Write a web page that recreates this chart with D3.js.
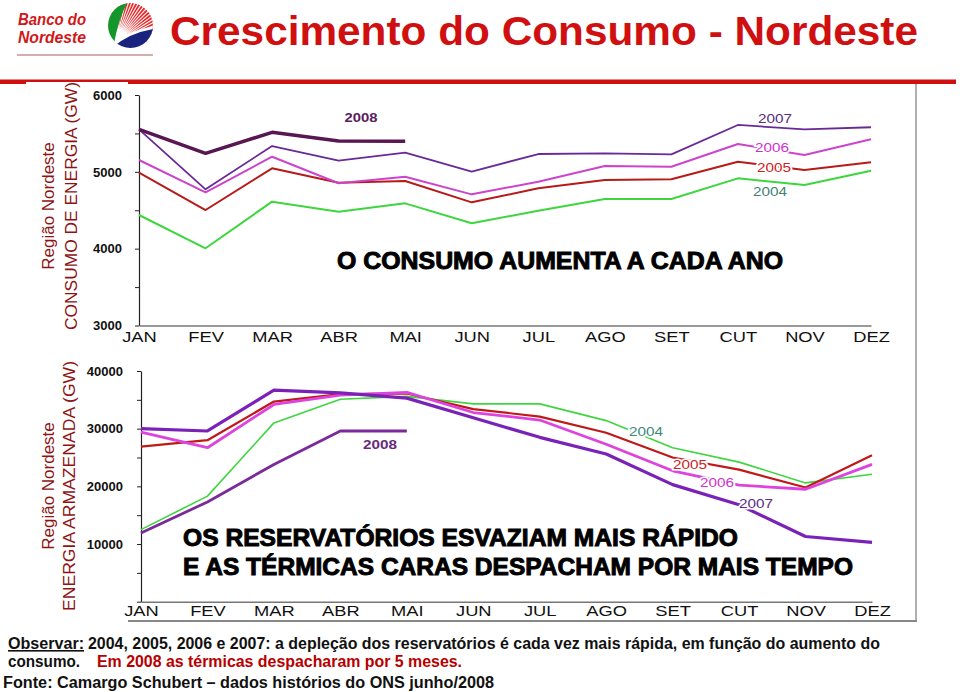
<!DOCTYPE html>
<html><head><meta charset="utf-8">
<script src="https://cdn.jsdelivr.net/npm/d3@7"></script>
<style>body{margin:0;background:#fff}svg{display:block;font-family:"Liberation Sans",Arial,sans-serif}</style>
</head><body>
<script>
// ---- data ----
const months = ["JAN","FEV","MAR","ABR","MAI","JUN","JUL","AGO","SET","CUT","NOV","DEZ"];
const consumo2004 = [4438,4005,4612,4481,4590,4330,4494,4646,4646,4915,4829,5015];
const consumo2005 = [4989,4503,5046,4858,4880,4603,4786,4894,4903,5132,5024,5124];
const consumo2006 = [5154,4733,5197,4851,4937,4707,4872,5076,5067,5362,5219,5423];
const consumo2007 = [5553,4772,5336,5145,5249,5002,5232,5241,5228,5610,5553,5580];
const consumo2008 = [5553,5241,5514,5401,5397];
const energia2004 = [12500,18300,31000,35100,35600,34300,34300,31400,26700,24200,20600,22100];
const energia2005 = [26900,28000,34700,36000,36100,33400,32100,29300,25000,22900,19800,25400];
const energia2006 = [29400,26700,34200,35800,36300,32800,31500,27300,22700,20200,19500,23800];
const energia2007 = [30000,29600,36700,36200,35300,31900,28500,25600,20300,16800,11300,10300];
const energia2008 = [11900,17300,23800,29600,29600];
const consumoTicks = [3000,3500,4000,4500,5000,5500,6000];
const consumoLabels = [3000,4000,5000,6000];
const energiaTicks = [0,5000,10000,15000,20000,25000,30000,35000,40000];
const energiaLabels = [10000,20000,30000,40000];

const svg = d3.select("body").append("svg").attr("width",960).attr("height",692);
svg.append("rect").attr("width",960).attr("height",692).attr("fill","#fff");

function stretch(sel, f){ sel.each(function(){ const l=this.getComputedTextLength(); d3.select(this).attr("textLength",l*f).attr("lengthAdjust","spacingAndGlyphs"); }); }

// ---- header ----
const logo = svg.append("g");
logo.append("text").attr("x",18).attr("y",25).attr("textLength",68).attr("lengthAdjust","spacingAndGlyphs")
  .attr("font-size",16).attr("font-weight","bold").attr("font-style","italic").attr("fill","#d01818").text("Banco do");
logo.append("text").attr("x",18).attr("y",43).attr("textLength",68).attr("lengthAdjust","spacingAndGlyphs")
  .attr("font-size",16).attr("font-weight","bold").attr("font-style","italic").attr("fill","#d01818").text("Nordeste");
const defs = svg.append("defs");
defs.append("clipPath").attr("id","lc").append("circle").attr("cx",130.5).attr("cy",25.5).attr("r",22.5);
const lg = logo.append("g").attr("clip-path","url(#lc)");
lg.append("rect").attr("x",100).attr("y",0).attr("width",60).attr("height",55).attr("fill","#fff");
d3.range(-88,-8,4).forEach(a=>{
  const r1=14,r2=45,ox=116,oy=43,a1=a*Math.PI/180,a2=(a+2.6)*Math.PI/180;
  lg.append("path").attr("d",`M${ox+r1*Math.cos(a1)},${oy+r1*Math.sin(a1)}L${ox+r2*Math.cos(a1)},${oy+r2*Math.sin(a1)}L${ox+r2*Math.cos(a2)},${oy+r2*Math.sin(a2)}Z`).attr("fill","#e82828");
});
lg.append("path").attr("d","M100,0 L128,1 Q118,20 114,44 L100,55 Z").attr("fill","#14962a");
lg.append("path").attr("d","M110,48 Q128,31 158,27 L158,55 L100,55 Z").attr("fill","#1a237e").attr("stroke","#fff").attr("stroke-width",2.5);
logo.append("line").attr("x1",17).attr("x2",153).attr("y1",55).attr("y2",55).attr("stroke","#c89292").attr("stroke-width",1.5);

svg.append("text").attr("x",170).attr("y",45).attr("textLength",748).attr("lengthAdjust","spacingAndGlyphs")
  .attr("font-size",41).attr("font-weight","bold").attr("fill","#d01010").text("Crescimento do Consumo - Nordeste");

svg.append("rect").attr("x",0).attr("y",79.5).attr("width",956).attr("height",4.5).attr("fill","#d01010");
svg.append("rect").attr("x",26).attr("y",82).attr("width",102).attr("height",3).attr("fill","#fff");

// frame
svg.append("line").attr("x1",916).attr("x2",916).attr("y1",84).attr("y2",621).attr("stroke","#b0b0b0").attr("stroke-width",2);
svg.append("line").attr("x1",128).attr("x2",917).attr("y1",621).attr("y2",621).attr("stroke","#888").attr("stroke-width",2);

// ---- charts ----
function chart(cfg){
  const x = d3.scalePoint().domain(months).range([cfg.x0,cfg.x1]);
  const y = d3.scaleLinear().domain(cfg.domain).range([cfg.yb,cfg.yt]);
  const g = svg.append("g");
  const ya = g.append("g").attr("transform",`translate(${cfg.x0},0)`)
    .call(d3.axisLeft(y).tickValues(cfg.ticks).tickSize(4).tickSizeOuter(0).tickPadding(cfg.pad)
      .tickFormat(d=>cfg.labels.includes(d)?String(d):""));
  ya.select(".domain").attr("stroke","#222").attr("stroke-width",1.2);
  ya.selectAll(".tick line").attr("stroke","#222");
  ya.selectAll(".tick text").attr("font-size",13).attr("font-weight","bold").attr("fill","#111").attr("font-family","Liberation Sans, Arial, sans-serif");
  const xa = g.append("g").attr("transform",`translate(0,${cfg.yb})`)
    .call(d3.axisBottom(x).tickSize(0).tickPadding(cfg.xpad));
  xa.select(".domain").attr("stroke","#777").attr("stroke-width",1.5);
  xa.selectAll(".tick text").attr("font-size",15).attr("fill","#111").attr("font-family","Liberation Sans, Arial, sans-serif");
  stretch(xa.selectAll(".tick text"),1.22);
  const line = d3.line().x((d,i)=>x(months[i])).y(d=>y(d));
  cfg.series.forEach(s=>{
    g.append("path").datum(s.v).attr("d",line).attr("fill","none").attr("stroke",s.c).attr("stroke-width",s.w).attr("stroke-linejoin","round");
  });
  cfg.tags.forEach(t=>{
    g.append("text").attr("x",t.x).attr("y",t.y).attr("text-anchor","middle").attr("font-size",t.fs||12)
      .attr("font-weight",t.b?"bold":"normal").attr("fill",t.c).attr("stroke","#fff").attr("stroke-width",3)
      .attr("paint-order","stroke").attr("textLength",t.w).attr("lengthAdjust","spacingAndGlyphs").text(t.t);
  });
  g.append("text").attr("transform",`translate(${cfg.tx1},${cfg.ty}) rotate(-90)`).attr("text-anchor","middle")
    .attr("font-size",17).attr("fill","#8e1414").text("Região Nordeste");
  g.append("text").attr("transform",`translate(${cfg.tx2},${cfg.ty}) rotate(-90)`).attr("text-anchor","middle")
    .attr("font-size",17).attr("fill","#8e1414").attr("textLength",cfg.tlen).attr("lengthAdjust","spacingAndGlyphs").text(cfg.title);
  return {x,y,g};
}

chart({x0:139,x1:871,yb:325.5,yt:95,domain:[3000,6000],ticks:consumoTicks,labels:consumoLabels,pad:13,xpad:6,
  series:[
    {v:consumo2004,c:"#3ed63e",w:2},
    {v:consumo2005,c:"#b81a1a",w:2},
    {v:consumo2006,c:"#cc44cc",w:2},
    {v:consumo2007,c:"#6a2a96",w:1.8},
    {v:consumo2008,c:"#581652",w:3.5}
  ],
  tags:[
    {t:"2008",x:361,y:122,c:"#5a2060",b:true,w:33,fs:12},
    {t:"2007",x:775,y:123,c:"#5a2a7a",w:34},
    {t:"2006",x:772,y:152,c:"#cc33cc",w:34},
    {t:"2005",x:774,y:172,c:"#cc2222",w:34},
    {t:"2004",x:770,y:196,c:"#3f7f70",w:34}
  ],
  tx1:54,tx2:77,ty:206,title:"CONSUMO DE ENERGIA (GW)",tlen:248});

chart({x0:141,x1:872,yb:601.7,yt:371,domain:[0,40000],ticks:energiaTicks,labels:energiaLabels,pad:14,xpad:4,
  series:[
    {v:energia2004,c:"#3ed63e",w:1.6},
    {v:energia2005,c:"#c01818",w:2.2},
    {v:energia2006,c:"#dd44dd",w:2.8},
    {v:energia2008,c:"#7a2a9a",w:2.8},
    {v:energia2007,c:"#7a22b8",w:3.2}
  ],
  tags:[
    {t:"2008",x:380,y:449,c:"#6a2a7a",b:true,w:34,fs:12},
    {t:"2004",x:646,y:436,c:"#3a8a7a",w:34},
    {t:"2005",x:690,y:469,c:"#cc2222",w:34},
    {t:"2006",x:717,y:487,c:"#cc33cc",w:34},
    {t:"2007",x:756,y:508,c:"#5a2a8a",w:34}
  ],
  tx1:54,tx2:75,ty:486,title:"ENERGIA ARMAZENADA (GW)",tlen:250});

function caption(t,x,y,w){
  svg.append("text").attr("x",x).attr("y",y).attr("font-size",23).attr("font-weight","bold").attr("fill","#000")
    .attr("stroke","#000").attr("stroke-width",0.9).attr("textLength",w).attr("lengthAdjust","spacingAndGlyphs").text(t);
}
caption("O CONSUMO AUMENTA A CADA ANO",337,268.5,446);
caption("OS RESERVATÓRIOS ESVAZIAM MAIS RÁPIDO",183,546,555);
caption("E AS TÉRMICAS CARAS DESPACHAM POR MAIS TEMPO",183,575,670);

// footer
function foot(t,x,y,w,c,u){
  svg.append("text").attr("x",x).attr("y",y).attr("font-size",16).attr("font-weight","bold").attr("fill",c)
    .attr("text-decoration",u?"underline":null).attr("textLength",w).attr("lengthAdjust","spacingAndGlyphs").text(t);
}
foot("Observar:",8,649,76,"#111",true);
foot("2004, 2005, 2006 e 2007: a depleção dos reservatórios é cada vez mais rápida, em função do aumento do",88,649,792,"#111");
foot("consumo.",8,667,72,"#111");
foot("Em 2008 as térmicas despacharam por 5 meses.",97,667,365,"#b80000");
foot("Fonte: Camargo Schubert  – dados histórios do ONS  junho/2008",3,688,491,"#111");
</script>
</body></html>
